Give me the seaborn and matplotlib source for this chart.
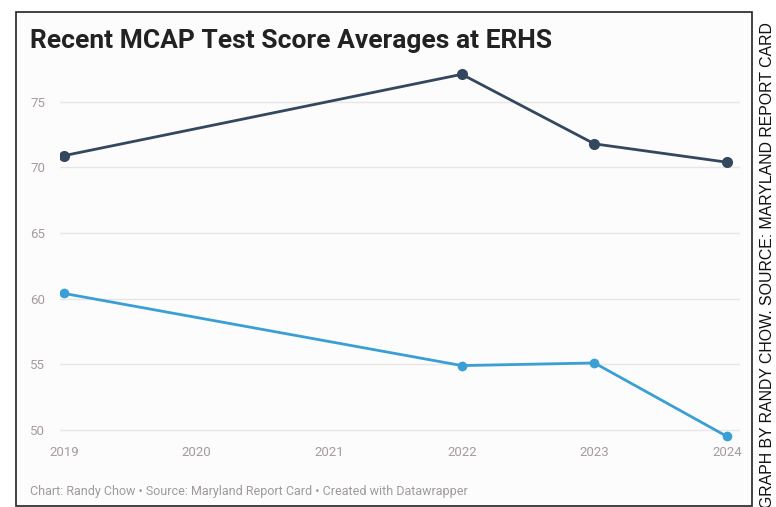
import pandas as pd
import matplotlib.pyplot as plt
import seaborn as sns
from matplotlib.patches import Rectangle

# valores
years = [2019, 2022, 2023, 2024]
upper_scores = [70.9, 77.1, 71.8, 70.4]
lower_scores = [60.4, 54.9, 55.1, 49.5]
year_ticks = [2019, 2020, 2021, 2022, 2023, 2024]
score_ticks = [50, 55, 60, 65, 70, 75]

df = pd.DataFrame({
    "year": years * 2,
    "score": upper_scores + lower_scores,
    "series": ["upper"] * len(years) + ["lower"] * len(years),
})

sns.set_theme(style="white")
plt.rcParams["font.family"] = ["Roboto", "DejaVu Sans"]

W, H = 776, 507
fig = plt.figure(figsize=(W / 100, H / 100), dpi=100)
fig.patch.set_facecolor("white")

# marco exterior y fondo gris claro
fig.patches.append(Rectangle((16 / W, 1 - 506 / H), 736 / W, 494 / H,
                             transform=fig.transFigure, facecolor="#fcfcfc",
                             edgecolor="#222222", linewidth=1.2, zorder=-5))

ax = fig.add_axes([60 / W, 1 - 443 / H, 680 / W, 380.5 / H])
ax.set_facecolor("none")

palette = {"upper": "#33475f", "lower": "#3a9fd4"}
sns.lineplot(data=df[df.series == "upper"], x="year", y="score", color=palette["upper"],
             linewidth=2.0, marker="o", markersize=8, markeredgewidth=0, ax=ax)
sns.lineplot(data=df[df.series == "lower"], x="year", y="score", color=palette["lower"],
             linewidth=2.0, marker="o", markersize=7, markeredgewidth=0, ax=ax)

ax.set_xlim(2019 - 4 / 132.6, 2024 + 13 / 132.6)
ax.set_ylim(49, 78)
ax.set_xticks(year_ticks)
ax.set_xticklabels([str(y) for y in year_ticks])
ax.set_yticks(score_ticks)
ax.set_yticklabels([str(s) for s in score_ticks])
for lab in ax.get_yticklabels():
    lab.set_horizontalalignment("left")
ax.tick_params(axis="y", length=0, pad=21.6, labelsize=9.5, labelcolor="#a59c9c")
ax.tick_params(axis="x", length=0, pad=2, labelsize=9.5, labelcolor="#a59c9c")
ax.grid(axis="y", color="#e6e6e6", linewidth=1)
ax.set_axisbelow(True)
for s in ax.spines.values():
    s.set_visible(False)
ax.set_xlabel("")
ax.set_ylabel("")

fig.text(30 / W, 1 - 41 / H, "Recent MCAP Test Score Averages at ERHS",
         fontsize=19, fontweight="bold", color="#222222", va="center", ha="left")
fig.text(30 / W, 1 - 492 / H,
         "Chart: Randy Chow \u2022 Source: Maryland Report Card \u2022 Created with Datawrapper",
         fontsize=9, color="#a09a9a", va="center", ha="left")
fig.text(767 / W, 1 - 22 / H, "GRAPH BY RANDY CHOW. SOURCE: MARYLAND REPORT CARD",
         rotation=90, fontsize=11.4, family="Liberation Sans",
         color="#111111", ha="center", va="top")

fig.savefig("out.png", dpi=100)
